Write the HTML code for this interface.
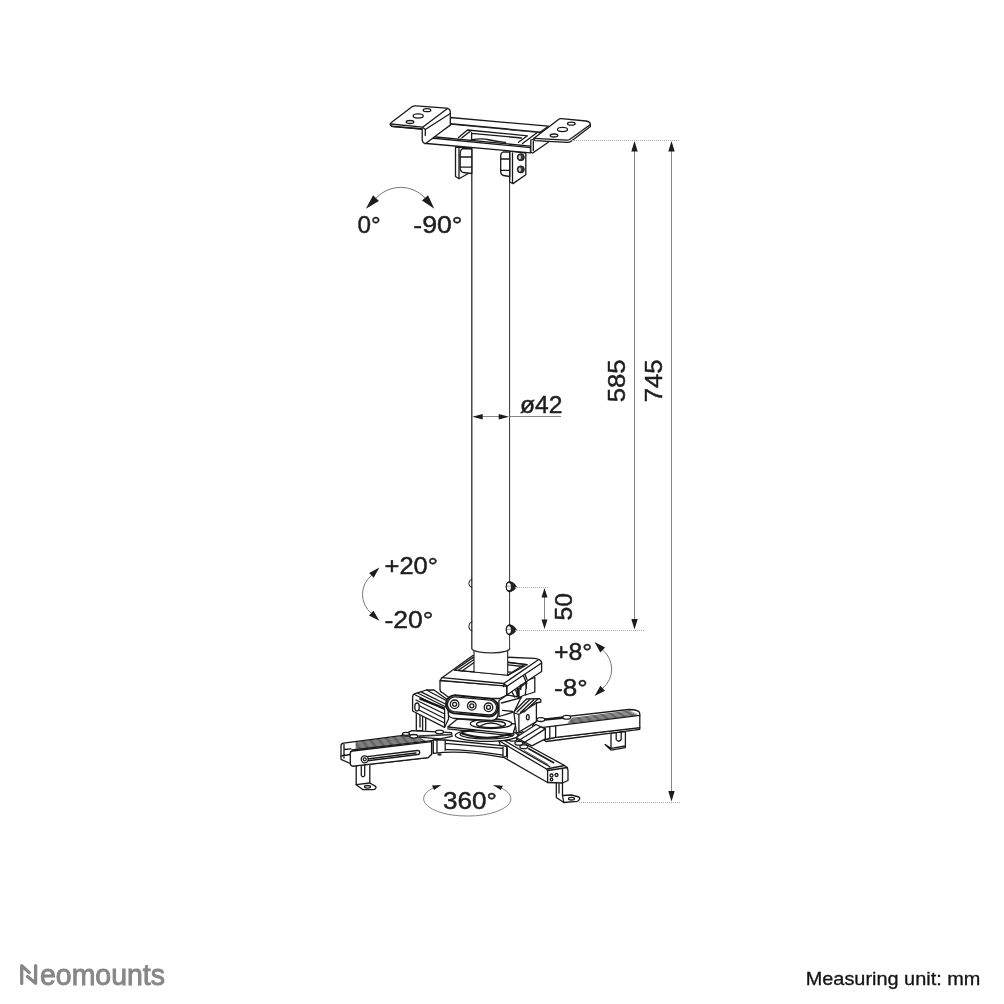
<!DOCTYPE html>
<html><head><meta charset="utf-8"><title>Neomounts ceiling mount dimensions</title>
<style>
html,body{margin:0;padding:0;background:#fff;}
body{width:1004px;height:1004px;overflow:hidden;position:relative;font-family:"Liberation Sans",sans-serif;}
svg{position:absolute;left:0;top:0;display:block}
text{font-family:"Liberation Sans",sans-serif;fill:#1c1c1c}
#txt,#btxt{opacity:.99}
.o{fill:#fff;stroke:#1a1a1a;stroke-width:1.300;stroke-linejoin:round;stroke-linecap:round}
.l{fill:none;stroke:#1a1a1a;stroke-width:1.300;stroke-linejoin:round;stroke-linecap:round}
.t{fill:none;stroke:#222;stroke-width:.75;stroke-linejoin:round;stroke-linecap:round}
.d{fill:none;stroke:#858585;stroke-width:1}
.dot{fill:none;stroke:#aaa;stroke-width:1;stroke-dasharray:1 1}
.a{fill:#1c1c1c;stroke:none}
</style></head><body>
<svg width="1004" height="1004" viewBox="0 0 1004 1004">
<rect width="1004" height="1004" fill="#fff"/>
<!-- TOP PLATE -->
<g id="top">
<!-- side brackets -->
<path class="o" d="M455.500 147V176.500L459 178.700L471.800 171.500V148z"/>
<path class="l" d="M459 147.500V178.500"/>
<path class="o" d="M462.500 148.500Q460.200 150 460.200 153V167.500Q460.200 171.500 463 172.500L471.800 173.500V149z"/>
<path class="l" d="M460.300 157H471.500M460.300 167.200H471.500"/>
<path class="o" d="M509.700 151V182L513 183.600L525.800 174.700V153z"/>
<path class="o" d="M503 152Q500.700 153 500.700 156V171.500Q500.700 175 503.500 175.500L509.700 176.500V152z"/>
<path class="l" d="M500.800 159H509.500M500.800 170.300H509.500M512.500 153V183"/>
<circle cx="520.800" cy="157.200" r="3.500" fill="#3a3a3a" stroke="#1a1a1a" stroke-width="1"/><ellipse cx="519.800" cy="157.200" rx="1.200" ry="2" fill="#ddd"/>
<circle cx="520.800" cy="169.400" r="3.500" fill="#3a3a3a" stroke="#1a1a1a" stroke-width="1"/><ellipse cx="519.800" cy="169.400" rx="1.200" ry="2" fill="#ddd"/>

<!-- back rail -->
<path class="o" d="M450.300 117.500L548.400 126.200L539 133L450.300 124.500z"/>
<path class="l" d="M450.300 123.700L543 132.300"/>
<!-- floor -->
<path d="M450.300 124.800L539 133L530.500 147L426 136z" fill="#fff"/><path class="l" d="M450.300 125.100L434 135.800"/>
<!-- opening -->
<path class="l" d="M458.500 137.500L467.500 130L527.500 135.800L518.500 142.300M462 137.800L470.500 131"/>
<path class="l" d="M471.600 132.600V139.600M471.600 133.400L521.500 138"/>
<path class="l" d="M472 139.600Q482 138 490 140T505.600 142.300"/>
<path class="l" d="M522.500 143.500L537 132.800"/>
<!-- front rail -->
<path class="o" d="M425.500 136L530.500 146.200V152.800L426.500 143.500Q425 140 425.500 136z"/>
<path class="l" d="M426 137.500L530.500 147.600"/>
<!-- left tab -->
<path class="o" d="M392 122L412 106.800Q413.500 105.700 416 105.900L446.500 108.200Q450.300 108.800 450.300 112V125L425.300 143.800Q422.200 142.500 422.200 139.500V129L393 126.500Q389.500 125.500 390.300 123.600z"/>
<path class="l" d="M390.500 124L422.600 127.200L447.500 108.500M422.600 127.200L425.300 129.500L450.300 113.500M425.300 129.500V135.500M391.500 126.300L422 129"/>
<ellipse class="l" cx="427" cy="110.200" rx="3.800" ry="1.500"/><ellipse class="l" cx="418.200" cy="116" rx="5" ry="2.100"/><ellipse class="l" cx="410" cy="122" rx="3.800" ry="1.500"/>
<!-- right tab -->
<path class="o" d="M530.800 140V151.500Q531 153 532.700 153L549 141.700L534 139z"/>
<path class="l" d="M533.300 141V150.500"/>
<path class="o" d="M534 138.300L558.500 119.500Q559.700 118.500 561.500 118.700L586 121Q590.400 121.700 590.400 124.800V126.500L571.500 141Q569.500 142.500 567 142.400L535.500 140.600Q533 140 534 138.300z"/>
<path class="l" d="M534 138.300L566.500 140.200Q568.500 140.300 570 139.200L590.400 124.500"/>
<ellipse class="l" cx="571.300" cy="123.700" rx="3.800" ry="1.500"/><ellipse class="l" cx="562.500" cy="129.500" rx="5" ry="2.100"/><ellipse class="l" cx="554" cy="135.500" rx="3.800" ry="1.500"/>
</g>
<!-- ARMS -->
<g id="arms">
<!-- right arm -->
<path class="o" d="M611 733V748.400L605.100 744.500L611 750.100L625.400 747.600V731.500z"/>
<path class="l" d="M611 748.400L625.400 746M616.200 732.500V739.500Q618.600 743 621.200 739.500V732"/>
<path class="o" d="M543.800 739.800L555.700 737.400L639.800 727.600V729.300L546 741.500z"/>
<path class="o" d="M536.800 719.900L628.800 709.500Q639.800 709.500 639.800 713.700V727.600L555.700 737.400L545.300 739.500V728.900L533.800 728.400Q531.500 726.500 533.500 724.500z"/>
<path class="l" d="M533.800 728.400L545.300 727.200L639.800 715.400M549.800 727.500V738.500M555.700 726.800V737.400"/>
<path class="t" d="M572 718.300L630 711M571 719.500L632 712M570 720.700L634 713M569 721.900L636 714M568 723.100L637 715"/>
<ellipse class="o" cx="540.800" cy="719.600" rx="4" ry="1.900"/><ellipse class="o" cx="566.700" cy="717.300" rx="4" ry="1.900"/>
<path class="l" d="M545 719.800L562.500 718" style="stroke-width:1.800"/>
<!-- stub under right clamp -->
<path class="o" d="M516 737.500L536 724.500L545.300 728.900V738.800L531.800 745.800z"/>
<path class="l" d="M519.900 739.800L541 726.800M523.900 742.800L545.300 728.900M512 735.500Q516 737.500 519 734.500M516 732.500Q520 734 523 731.500"/>
<!-- front-right arm -->
<path class="o" d="M556.300 782.500V797.500L563.800 802.500L577.500 801.300Q581 799 579 797L571.300 795L562.500 795.500V780z"/>
<path class="l" d="M562.500 795.500L563.800 802.500M559 784V793"/>
<ellipse class="l" cx="571.500" cy="798.700" rx="3" ry="1.300"/>
<path class="o" d="M499 740.800L517 739.500L564.500 765.500Q568 767.500 568 770.500V780.500L562.500 783L547.600 782.500L503 757z"/>
<path class="l" d="M499 740.800L546.500 769L564.500 765.500M503 739.800L549.800 766.800M546.500 769L547.600 770.500V782.500M547.600 770.500L567.500 767.500M562.500 769.500V783M503 747.800V756.800M507.400 748.800V758"/>
<path class="l" d="M528.800 748.800L553.700 762.700" style="stroke-width:1.700"/>
<path class="l" d="M524 750.500L548 764.500" style="stroke-width:.8"/>
<ellipse class="o" cx="512.900" cy="739.300" rx="4" ry="1.900"/><ellipse class="o" cx="518.900" cy="743.300" rx="4" ry="1.900"/><ellipse class="o" cx="523.900" cy="746.800" rx="4" ry="1.900"/>
<circle cx="551.500" cy="775.500" r="1.500" class="l"/><circle cx="556.500" cy="775" r="1.500" class="l"/><circle cx="551.500" cy="779.500" r="1.300" class="l"/>
<!-- left arm -->
<path class="o" d="M356.200 765V784.700L363 789.700H373.200Q377 788.500 375.700 786.400L369.800 783V764z"/>
<path class="l" d="M356.200 784.700L369.800 783M361.300 766V775.500Q363 778 364.700 775.500V765.500"/>
<ellipse class="l" cx="367.500" cy="786.800" rx="3" ry="1.300"/>
<path class="o" d="M341 746Q341 743.500 343.500 743.200L401 735.600L412 730.700L451.500 732.600L452 736.400L431.600 740.600V754.200L428.200 757.600L353 766.200L350.300 763.500L341 759.300z"/>
<path class="l" d="M344 744.500V758M344 749.500L351 748.800M341 756L350.300 754.500"/>
<path class="o" d="M350.300 753Q350.300 751.200 352.500 751L431.600 741.600V754.200L428.200 757.600L353 766.200Q350.300 766 350.300 763.500z"/>
<path class="l" d="M352 750L431.600 740.600M401 735.600L440 738.800"/>
<path class="t" d="M356 742.4L414.0 735.0M356 743.5L415.8 735.9M356 744.6L417.6 736.8M356 745.7L419.4 737.6M356 746.8L421.2 738.5M356 747.9L423.0 739.4M356 749.0L424.8 740.3"/>
<path class="o" d="M365 756.900L417.500 750.500A2 2 0 0 1 418 754.500L365.500 761z"/>
<path class="l" d="M367 759L416 753"/>
<circle class="o" cx="364.700" cy="759.300" r="3.500"/><circle class="l" cx="364.700" cy="759.300" r="1.500"/>
<ellipse class="o" cx="413.800" cy="736.300" rx="4" ry="1.800"/><ellipse class="o" cx="406" cy="733.800" rx="3.500" ry="1.500"/><ellipse class="o" cx="439.500" cy="732" rx="4" ry="1.800"/>
<path d="M418.500 735.300L451.500 733.800V735.300L418.500 737z" fill="#333"/>
</g>
<!-- HEAD -->
<g id="head">
<!-- hub lower body -->
<path class="o" d="M433.300 740V753.300Q462 749.500 503 757.300L507 756V746.500L504 745.800L445 740z"/>
<path class="l" d="M437 740.300V752.500M445.200 740.200V750.300M445.200 743.300L503 748.300M445.200 749.600Q470 749.500 503 755.200M503 747V757.200M506.700 746.500V756"/>
<ellipse cx="439.500" cy="754.500" rx="2.200" ry="1.200" fill="#333"/>
<!-- disc -->
<ellipse class="o" cx="486.600" cy="735.300" rx="31.400" ry="6"/>
<ellipse class="l" cx="487" cy="734.300" rx="27" ry="4.600"/>
<path class="l" d="M462 733.500Q486 741.500 511 734" style="stroke-width:2"/>
<!-- swivel plate -->
<path class="o" d="M447.700 727L457.700 718.800L516 724L513 734z"/>
<path class="l" d="M447.700 728.800L512.500 735.800"/>
<ellipse class="o" cx="491" cy="723.800" rx="20.700" ry="4.800"/>
<ellipse class="l" cx="491" cy="724.300" rx="14.500" ry="3.300"/>
<path class="l" d="M481 725.500Q491 720.500 501 725.500"/>
<!-- left clamp -->
<path class="o" d="M416.300 712V730.700H422.600V716M420 714.500V727M425.700 717.500V730"/>
<path class="o" d="M412.600 697Q412.600 694.500 415 693.600L426.500 690H434L448.500 700.500V719L444.600 727.300L412.600 711z"/>
<path class="l" d="M414.500 694.500L444.600 709.500V727.300M417.500 693L447 707.500M421 691.800L448.500 705.500M426.500 690L448 701.500M416 700L444.600 714M416 704L444.600 718.500M416 708.500L444.600 723"/>
<ellipse class="o" cx="417" cy="707" rx="2.200" ry="4"/>
<path d="M419.500 698.300L444.800 708.700" stroke="#1a1a1a" stroke-width="2.400" fill="none"/>
<!-- right clamp -->
<path class="o" d="M514.100 711.500L526.500 699L539.600 698.600L540.800 699.800V702L536.400 703V721.600L518.900 732L516.400 733L514.100 714z"/>
<path class="l" d="M514.100 713L518.900 714.500L536.400 703M518.900 714.500V732M517 712L530 699.300M520.500 712.500L534 699.500M524 712L538 699"/>
<ellipse class="l" cx="527.800" cy="717.300" rx="1.400" ry="2.600"/>
<!-- body below slot plate -->
<path class="o" d="M448.300 703V714Q449 718.200 455 718.500L492 720.500Q497 720 498 715V703z"/>
<!-- top block front face -->
<path class="o" d="M440 680.500V689.500Q440 692 443 693L450 698.500H499.500L506.700 695.300V685.800z"/>
<!-- right side of block -->
<path class="o" d="M499 700.500L507 695L521 697.500L514 712L499 716.500z"/>
<path class="l" d="M501.500 703L521.500 697.700M502.600 710.300L512.600 711.500"/>
<path class="o" d="M519 688.500L526.900 682V694L519 697.500z"/>
<path class="o" d="M526.900 680.500L534.800 677.500V692L525.300 695z"/>
<path class="o" d="M507 685.500L541.600 662.500V671.500L520.500 685.500L507 695z"/>
<path class="l" d="M522 672.500L525.500 680.500L526.500 688M523.800 671.500L527 679.500M512 692L514.500 697M515.500 690L518 695.500"/>
<path d="M517.800 688V697" stroke="#1a1a1a" stroke-width="2.600" fill="none"/>
<path d="M521 684.500L520.500 690" stroke="#1a1a1a" stroke-width="1.600" fill="none"/>
<!-- top frame -->
<path class="o" d="M442 677.700L472.500 655.700L534.800 658.400Q541.600 659.300 541.600 663L507 686.200L440.200 680.300z"/>
<path class="l" d="M442 677.700L503.800 683.500L538 660M503.800 683.500L507 686M504 684L503.500 686.500"/>
<path class="o" d="M454.600 670.200L472.800 657.600L527 664.700L508 675.200z"/>
<path class="l" d="M458 670.500L474 659.500M462 671L475.500 661.500M508 662.700L527 664.700M508 664.800L523 666.500M508 675.200L512 672.300L503.500 671.500L499.500 674.400M512 672.300L524.500 664.500"/>
<!-- slot plate -->
<path class="o" d="M455.200 695.300L490.300 698.600A9 9 0 0 1 488.700 716.500L453.600 713.200A9 9 0 0 1 455.200 695.300z" style="stroke-width:1.900"/>
<path class="l" d="M455.100 696.800L490.200 700.100A7.500 7.500 0 0 1 488.800 715L453.700 711.700A7.500 7.500 0 0 1 455.100 696.800z"/>
<g class="l"><circle cx="454.600" cy="704.300" r="4.300"/><circle cx="454.600" cy="704.300" r="2"/><circle cx="471.800" cy="705.800" r="4.300"/><circle cx="471.800" cy="705.800" r="2"/><circle cx="488.500" cy="707.300" r="4.300"/><circle cx="488.500" cy="707.300" r="2"/></g>
</g>
<!-- POLE -->
<g id="pole">
<path d="M474 650V672.200L507.700 675.200V650z" fill="#fff"/><path class="l" d="M474 650V672.200M507.700 650V675.200M454.600 670.200L508 675.200" style="stroke-width:1.100"/>
<path d="M471.800 600V648.800A18.900 4.500 0 0 0 509.600 648V600z" fill="#fff"/>
<path d="M471.800 172V648.800A18.900 4.500 0 0 0 509.600 648" fill="none" stroke="#2a2a2a" stroke-width="1.300"/><path d="M509.600 648V182" fill="none" stroke="#333" stroke-width="1"/>
<!-- bolts -->
<path d="M509.500 581.3Q506 582.2 506 586.7Q506 591.2 509.500 592.1Q514.500 590.7 516.400 586.7Q514.500 582.7 509.500 581.3z" fill="#222" stroke="#1a1a1a" stroke-width="1"/><ellipse cx="508.900" cy="586.7" rx="2" ry="3.600" fill="#fff"/><path d="M507 586.2H510.800" stroke="#555" stroke-width=".6"/>
<path d="M509.500 624.4Q506 625.3 506 629.8Q506 634.3 509.500 635.2Q514.500 633.8 516.400 629.8Q514.500 625.8 509.500 624.4z" fill="#222" stroke="#1a1a1a" stroke-width="1"/><ellipse cx="508.900" cy="629.8" rx="2" ry="3.600" fill="#fff"/><path d="M507 629.3H510.800" stroke="#555" stroke-width=".6"/>
<path class="l" d="M471.900 579.200Q468.800 580 468.800 583.400Q468.800 586.800 471.900 587.600M471.900 621.800Q468.800 622.600 468.800 626.400Q468.800 630.200 471.900 631" style="stroke-width:1"/>
</g>
<!-- DIMS -->
<g id="dims">
<path class="dot" d="M572 140.5H680M515 587.5H548M515 630.5H644M579 802.5H680"/>
<path class="d" d="M634.5 150V621M671.5 150V793M544.5 596V621M482 416.5H499M509.5 416.5H561"/>
<path class="a" d="M634.5 141l3.2 10.5h-6.4zM671.5 141l3.2 10.5h-6.4zM634.5 629.5l3.2-10.5h-6.4zM671.5 801.5l3.2-10.5h-6.4zM544.5 588l3 9.500h-6zM544.5 629l3-9.500h-6z"/>
<path class="a" d="M472.300 416.800l10.400-2.800v5.600zM509.100 416.800l-10.400-2.800v5.600z"/>
</g>
<!-- ARCS -->
<g id="arcs">
<path class="d" style="stroke:#777;stroke-width:1" d="M376 198.100A33.600 33.600 0 0 1 425 197.800M371.400 575.400A24.700 24.700 0 0 0 371.200 613.200M602.700 650A24.800 24.800 0 0 1 602.700 688.200"/>
<path class="d" style="stroke:#777;stroke-width:.9" d="M433 788A43.700 17.300 0 1 0 501.500 788"/>
<path class="a" d="M365.9 208.7L373.1 195.3L378.9 200.9zM434.3 208.7L422.0 200.4L428.0 195.2zM379.4 567.4L373.7 577.7L369.1 573.1zM379.4 620.7L369.0 615.6L373.4 610.8zM594.6 642.1L605.1 647.6L600.3 652.4zM594.6 695.9L600.4 685.7L605.0 690.7z"/>
<path class="a" d="M441.400 785.100L432 785.500L434 790zM492.900 785.100L502.900 785.800L500.800 790z"/>
</g>
<!-- TEXT -->
<g id="txt" font-size="24" stroke="#1c1c1c" stroke-width=".45">
<text x="357.600" y="233" textLength="23.200" lengthAdjust="spacingAndGlyphs">0°</text>
<text x="413.300" y="233" textLength="49.200" lengthAdjust="spacingAndGlyphs">-90°</text>
<text x="520" y="412.900" textLength="42.500" lengthAdjust="spacingAndGlyphs">ø42</text>
<text x="384.500" y="574.400" textLength="53.500" lengthAdjust="spacingAndGlyphs">+20°</text>
<text x="384.500" y="628" textLength="49" lengthAdjust="spacingAndGlyphs">-20°</text>
<text x="554" y="659.500" textLength="38.200" lengthAdjust="spacingAndGlyphs">+8°</text>
<text x="554" y="695.500" textLength="33.600" lengthAdjust="spacingAndGlyphs">-8°</text>
<text x="443" y="809" textLength="54" lengthAdjust="spacingAndGlyphs">360°</text>
<text transform="translate(624.900 402.300) rotate(-90)" textLength="43" lengthAdjust="spacingAndGlyphs">585</text>
<text transform="translate(661.700 402.300) rotate(-90)" textLength="43" lengthAdjust="spacingAndGlyphs">745</text>
<text transform="translate(572.300 620.500) rotate(-90)" textLength="27.500" lengthAdjust="spacingAndGlyphs">50</text>
<path d="M21.700 983.400V965.700L29.300 972.600M27.500 976.500L35.600 983.300V965.700" fill="none" stroke="#868686" stroke-width="3.300" stroke-linecap="round" stroke-linejoin="round"/>
<text x="40" y="985" font-size="29" style="fill:#868686;stroke:#868686;stroke-width:.9" textLength="125" lengthAdjust="spacingAndGlyphs">eomounts</text>
<text x="805.700" y="984.600" font-size="18.500" style="fill:#111;stroke:#111;stroke-width:.3" textLength="174.700" lengthAdjust="spacingAndGlyphs">Measuring unit: mm</text></g>

</svg>
</body></html>
